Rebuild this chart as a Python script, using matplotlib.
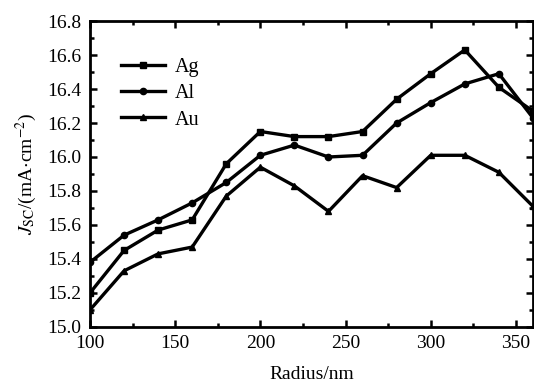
import matplotlib
matplotlib.use("Agg")
import matplotlib.pyplot as plt
from matplotlib.ticker import MultipleLocator, FormatStrFormatter

plt.rcParams['font.family'] = ['Liberation Serif', 'DejaVu Serif']
plt.rcParams['mathtext.fontset'] = 'stix'

# Short-circuit current density vs particle radius
radius = [100, 120, 140, 160, 180, 200, 220, 240, 260, 280, 300, 320, 340, 360]
jsc_ag = [15.20, 15.45, 15.57, 15.63, 15.96, 16.15, 16.12, 16.12, 16.15, 16.34, 16.49, 16.63, 16.41, 16.27]
jsc_al = [15.38, 15.54, 15.63, 15.73, 15.85, 16.01, 16.07, 16.00, 16.01, 16.20, 16.32, 16.43, 16.49, 16.23]
jsc_au = [15.10, 15.33, 15.43, 15.47, 15.77, 15.94, 15.83, 15.68, 15.89, 15.82, 16.01, 16.01, 15.91, 15.71]

fig = plt.figure(figsize=(5.34, 3.86), dpi=100)
ax = fig.add_axes([0.1685, 0.153, 0.8295, 0.7925])

style = dict(color='black', linewidth=2.4, markersize=4.5)
ax.plot(radius, jsc_ag, marker='s', label='Ag', **style)
ax.plot(radius, jsc_al, marker='o', label='Al', **style)
ax.plot(radius, jsc_au, marker='^', label='Au', **style)

ax.set_xlim(100, 360)
ax.set_ylim(15.0, 16.8)
ax.xaxis.set_major_locator(MultipleLocator(50))
ax.xaxis.set_minor_locator(MultipleLocator(25))
ax.yaxis.set_major_locator(MultipleLocator(0.2))
ax.yaxis.set_minor_locator(MultipleLocator(0.1))
ax.yaxis.set_major_formatter(FormatStrFormatter('%.1f'))
ax.tick_params(which='both', direction='in', top=True, right=True, labelsize=14, width=1.8)
ax.tick_params(which='major', length=5, pad=6)
ax.tick_params(which='minor', length=3)
for s in ax.spines.values():
    s.set_linewidth(2)

ax.set_xlabel('Radius/nm', fontsize=14, labelpad=10)
ax.set_ylabel(r'$J_{\mathrm{SC}}$/(mA$\cdot$cm$^{-2}$)', fontsize=14, labelpad=6)

ax.legend(loc='upper left', frameon=False, fontsize=14.5, handlelength=2.2,
          handletextpad=0.45, labelspacing=0.35, bbox_to_anchor=(0.052, 0.905),
          borderaxespad=0)

fig.savefig('out.png', dpi=100)
